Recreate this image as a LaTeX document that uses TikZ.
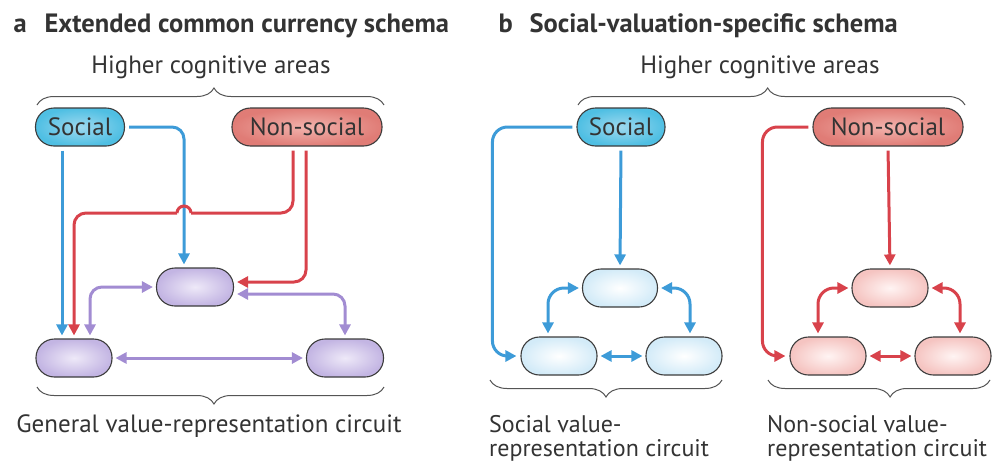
\documentclass[tikz,border=0pt]{standalone}
\usepackage{fontspec}
\setmainfont{PT Sans}
\usetikzlibrary{arrows.meta,decorations.pathreplacing}
\definecolor{txt}{HTML}{333333}
\definecolor{bord}{HTML}{3C3C3C}
\definecolor{bl}{HTML}{3D9BD8}
\definecolor{rd}{HTML}{D8424B}
\definecolor{pu}{HTML}{A28CD2}
\definecolor{brc}{HTML}{555555}
\definecolor{socin}{HTML}{9ED9EF}
\definecolor{socout}{HTML}{4FBFE3}
\definecolor{nsin}{HTML}{F2B3AD}
\definecolor{nsout}{HTML}{E07C76}
\definecolor{puin}{HTML}{EEE9F8}
\definecolor{puout}{HTML}{C3B5E3}
\definecolor{lbin}{HTML}{FFFFFF}
\definecolor{lbout}{HTML}{D3EBF8}
\definecolor{lrin}{HTML}{FFF4F3}
\definecolor{lrout}{HTML}{F5C4C1}
\begin{document}
\begin{tikzpicture}[x=1pt,y=-1pt, font=\fontsize{25}{25}\selectfont, text=txt,
  box/.style={rectangle, rounded corners=18.5pt, draw=bord, line width=1.1pt,
              minimum height=38pt, inner sep=0pt, shading=radial},
  socbox/.style={box, inner color=socin, outer color=socout},
  nsbox/.style={box, inner color=nsin, outer color=nsout},
  pubox/.style={box, inner color=puin, outer color=puout},
  lbbox/.style={box, inner color=lbin, outer color=lbout},
  lrbox/.style={box, inner color=lrin, outer color=lrout},
  conn/.style={line width=3pt, rounded corners=12pt},
  tip/.style={-{Triangle[length=11pt,width=11pt]}},
  dtip/.style={{Triangle[length=11pt,width=11pt]}-{Triangle[length=11pt,width=11pt]}},
  ttl/.style={anchor=base west, font=\fontsize{26.5}{26}\selectfont\bfseries},
  sub/.style={anchor=north west, align=left, inner sep=0pt, font=\fontsize{24}{24.5}\selectfont},
  brace/.style={draw=brc, line width=1pt, decorate, decoration={brace, amplitude=17pt, aspect=#1}},
  brace/.default=0.5
]
\useasboundingbox (0,0) rectangle (1002,464);

% ---------- Panel a ----------
\node[ttl] (la) at (10,32) {a};
\node[ttl] (ta) at (41,32) {Extended common currency schema};
\node[anchor=base] (hca) at (211,73) {Higher cognitive areas};
\draw[brace=0.51] (37,105) -- (384,105);

\node[socbox, minimum width=89pt] (socA) at (80,127) {Social};
\node[nsbox, minimum width=150pt] (nsA) at (307,127) {Non-social};
\node[pubox, minimum width=77pt] (midA) at (195,287) {};
\node[pubox, minimum width=76pt] (blA) at (74,358) {};
\node[pubox, minimum width=77pt] (brA) at (345,358) {};

\draw[brace=0.49] (384,387) -- (37,387);
\node[anchor=base] (gvr) at (209,432) {General value-representation circuit};

% blue connectors
\draw[conn, bl, tip, shorten <=4pt, shorten >=3pt] ([xshift=-18pt]socA.south) -- ([xshift=-12pt]blA.north);
\draw[conn, bl, tip, shorten <=4pt, shorten >=3pt] (socA.east) -| ([xshift=-11pt]midA.north);
% red connectors (with a hop over the blue line)
\coordinate (hopR) at (191,213);
\coordinate (hopL) at (177,213);
\draw[conn, rd, shorten <=4pt] ([xshift=-14pt]nsA.south) |- (hopR);
\draw[conn, rd] (hopR) arc[start angle=0, end angle=-180, radius=7];
\draw[conn, rd, tip, shorten >=3pt] (hopL) -| (blA.north);
\draw[conn, rd, tip, shorten <=4pt, shorten >=3pt] ([xshift=-1pt]nsA.south) |- ([yshift=5pt]midA.east);
% purple connectors
\draw[conn, pu, dtip, shorten <=3pt, shorten >=3pt] (midA.west) -| ([xshift=16pt]blA.north);
\draw[conn, pu, dtip, shorten <=3pt, shorten >=3pt] ([yshift=-7pt]midA.east) -| (brA.north);
\draw[conn, pu, dtip, shorten <=3pt, shorten >=3pt] (blA.east) -- (brA.west);

% ---------- Panel b ----------
\node[ttl] (lb) at (495,32) {b};
\node[ttl] (tb) at (526,32) {Social-valuation-specific schema};
\node[anchor=base] (hcb) at (760,73) {Higher cognitive areas};
\draw[brace=0.49] (578,105) -- (965,105);

\node[socbox, minimum width=88pt] (socB) at (621,127) {Social};
\node[nsbox, minimum width=150pt] (nsB) at (888,127) {Non-social};
\node[lbbox, minimum width=75pt] (midB) at (620,288) {};
\node[lbbox, minimum width=76pt] (blB) at (559,356) {};
\node[lbbox, minimum width=76pt] (brB) at (684,356) {};
\node[lrbox, minimum width=76pt] (midR) at (890,288) {};
\node[lrbox, minimum width=76pt] (blR) at (828,356) {};
\node[lrbox, minimum width=76pt] (brR) at (953,356) {};

\draw[brace=0.5] (722,380) -- (490,380);
\draw[brace=0.45] (990,380) -- (768,380);
\node[sub] (svr) at (489,415) {Social value-\\representation circuit};
\node[sub] (nsvr) at (767,415) {Non-social value-\\representation circuit};

% blue
\draw[conn, bl, tip, rounded corners=15pt, shorten <=4pt, shorten >=4pt] (socB.west) -| ([xshift=-28pt]blB.west) -- (blB.west);
\draw[conn, bl, tip, shorten <=4pt, shorten >=3pt] (socB.south) -- (midB.north);
\draw[conn, bl, dtip, rounded corners=16pt, shorten <=3pt, shorten >=3pt] (midB.west) -| ([xshift=-11pt]blB.north);
\draw[conn, bl, dtip, rounded corners=16pt, shorten <=3pt, shorten >=3pt] (midB.east) -| ([xshift=6pt]brB.north);
\draw[conn, bl, dtip, shorten <=3pt, shorten >=3pt] (blB.east) -- (brB.west);
% red
\draw[conn, rd, tip, rounded corners=15pt, shorten <=4pt, shorten >=4pt] (nsB.west) -| ([xshift=-27pt]blR.west) -- (blR.west);
\draw[conn, rd, tip, shorten <=4pt, shorten >=3pt] (nsB.south) -- (midR.north);
\draw[conn, rd, dtip, rounded corners=16pt, shorten <=3pt, shorten >=3pt] (midR.west) -| ([xshift=-10pt]blR.north);
\draw[conn, rd, dtip, rounded corners=16pt, shorten <=3pt, shorten >=3pt] (midR.east) -| ([xshift=7pt]brR.north);
\draw[conn, rd, dtip, shorten <=3pt, shorten >=3pt] (blR.east) -- (brR.west);
\end{tikzpicture}
\end{document}
